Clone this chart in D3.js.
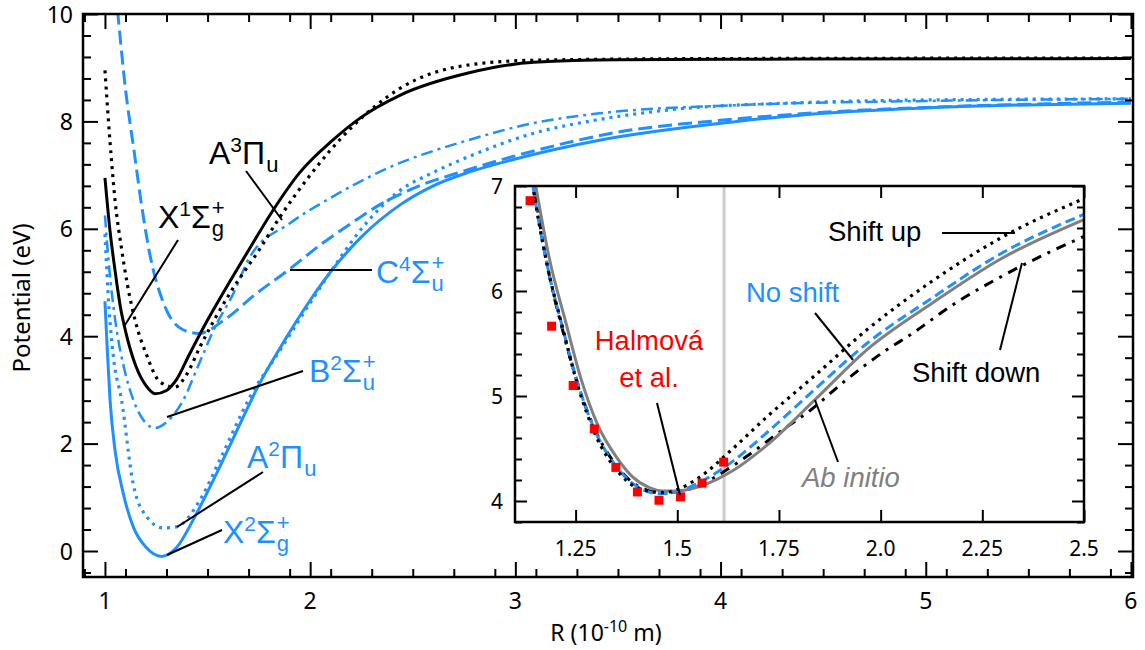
<!DOCTYPE html>
<html>
<head>
<meta charset="utf-8">
<script src="https://cdn.jsdelivr.net/npm/d3@7"></script>
<style>
  body { margin: 0; background: #fff; }
  svg { display: block; }
</style>
</head>
<body>
<script>
// main panel: potential curves, R in 1e-10 m, V in eV
const blackSolid = [[1.0,6.95],[1.025,5.95],[1.05,5.2],[1.075,4.55],[1.1,4.1],[1.15,3.45],[1.2,3.08],[1.245,2.93],[1.3,2.99],[1.35,3.2],[1.41,3.65],[1.5,4.3],[1.575,4.8],[1.7,5.6],[1.82,6.35],[1.95,7.05],[2.11,7.65],[2.25,8.08],[2.44,8.49],[2.77,8.9],[3.09,9.1],[3.5,9.15],[4.4,9.16],[6.0,9.17]];
const blackDot = [[1.0,8.95],[1.025,7.6],[1.05,6.5],[1.08,5.65],[1.11,4.95],[1.15,4.25],[1.2,3.68],[1.268,3.15],[1.34,3.05],[1.4,3.3],[1.463,3.8],[1.609,4.8],[1.75,5.6],[1.853,6.22],[2.0,7.0],[2.2,7.88],[2.44,8.62],[2.77,9.05],[3.1,9.14],[4.0,9.17],[6.0,9.18]];
const blueSolid = [[1.0,4.65],[1.012,3.7],[1.025,2.8],[1.05,1.85],[1.09,1.06],[1.14,0.43],[1.2,0.07],[1.276,-0.1],[1.35,0.07],[1.43,0.58],[1.5,1.1],[1.56,1.57],[1.65,2.3],[1.755,3.13],[1.88,3.95],[2.0,4.67],[2.1,5.2],[2.25,5.85],[2.44,6.45],[2.6,6.8],[2.77,7.05],[3.0,7.3],[3.41,7.65],[4.06,7.99],[4.4,8.12],[5.0,8.25],[6.0,8.34]];
const blueDot = [[1.0,5.9],[1.02,4.5],[1.04,3.65],[1.081,2.81],[1.137,1.26],[1.203,0.64],[1.283,0.43],[1.349,0.45],[1.463,0.95],[1.56,1.7],[1.707,2.87],[1.85,3.72],[2.0,4.62],[2.1,5.2],[2.25,6.0],[2.44,6.72],[2.6,7.05],[2.77,7.34],[3.09,7.78],[3.4,8.03],[3.74,8.21],[4.4,8.35],[5.0,8.4],[6.0,8.42]];
const blueDashDot = [[1.0,6.25],[1.02,5.3],[1.05,4.3],[1.1,3.3],[1.15,2.7],[1.2,2.38],[1.245,2.29],[1.3,2.4],[1.38,2.8],[1.46,3.5],[1.54,4.2],[1.62,4.75],[1.71,5.5],[1.9,6.1],[2.11,6.6],[2.39,7.15],[2.77,7.65],[3.09,7.97],[3.41,8.15],[4.06,8.3],[5.0,8.38],[6.0,8.42]];
const blueDash = [[1.04,10.8],[1.06,10.1],[1.1,8.6],[1.14,7.5],[1.18,6.4],[1.22,5.5],[1.28,4.67],[1.38,4.12],[1.46,4.05],[1.58,4.3],[1.74,4.8],[1.9,5.25],[2.06,5.73],[2.2,6.1],[2.34,6.45],[2.5,6.75],[2.77,7.1],[3.09,7.45],[3.5,7.8],[4.0,8.02],[4.5,8.17],[5.0,8.26],[6.0,8.36]];

// inset: zoom on the C4 state
const abInitio = [[1.125,7.6],[1.152,7.0],[1.186,6.3],[1.226,5.7],[1.262,5.18],[1.305,4.72],[1.35,4.42],[1.39,4.23],[1.43,4.13],[1.465,4.095],[1.5,4.095],[1.556,4.14],[1.637,4.29],[1.72,4.53],[1.84,4.97],[1.966,5.44],[2.129,5.89],[2.293,6.3],[2.5,6.68]];
const noShift = [[1.12,7.7],[1.145,7.0],[1.18,6.25],[1.22,5.62],[1.253,5.15],[1.3,4.65],[1.35,4.33],[1.4,4.14],[1.458,4.07],[1.5,4.09],[1.556,4.18],[1.637,4.38],[1.72,4.65],[1.84,5.07],[1.966,5.5],[2.129,5.94],[2.293,6.35],[2.5,6.73]];
const shiftUp = [[1.12,7.7],[1.145,7.0],[1.18,6.25],[1.22,5.62],[1.253,5.13],[1.3,4.62],[1.35,4.3],[1.4,4.13],[1.465,4.08],[1.5,4.11],[1.556,4.23],[1.637,4.5],[1.72,4.8],[1.84,5.2],[1.966,5.63],[2.129,6.1],[2.293,6.5],[2.5,6.88]];
const shiftDown = [[1.12,7.7],[1.147,7.0],[1.18,6.25],[1.22,5.6],[1.255,5.12],[1.3,4.66],[1.35,4.34],[1.4,4.15],[1.46,4.08],[1.5,4.09],[1.55,4.14],[1.598,4.24],[1.654,4.38],[1.76,4.68],[1.826,4.86],[1.908,5.13],[2.015,5.44],[2.072,5.58],[2.178,5.87],[2.293,6.13],[2.399,6.34],[2.5,6.52]];
const halmovaR = [1.138,1.191,1.244,1.296,1.349,1.402,1.455,1.508,1.561,1.614];
const halmovaV = [6.86,5.665,5.10,4.686,4.32,4.086,4.007,4.04,4.17,4.37];
const markerR = 1.615;

const mainXTicks = [1,2,3,4,5,6];
const mainYTicks = [0,2,4,6,8,10];
const insetXTicks = [1.25,1.5,1.75,2.0,2.25,2.5];
const insetXLabels = ["1.25","1.5","1.75","2.0","2.25","2.5"];
const insetYTicks = [4,5,6,7];

const W = 1145, H = 650;
const blue = "#1e90ff";
const tickFont = "'Noto Sans', sans-serif";
const annFont = "'Liberation Sans', Arial, sans-serif";

const svg = d3.select("body").append("svg").attr("width", W).attr("height", H);

// scales
const x = d3.scaleLinear().domain([0.893, 6.01]).range([83, 1133]);
const y = d3.scaleLinear().domain([-0.484, 10]).range([577, 14]);
const ix = d3.scaleLinear().domain([1.101, 2.5]).range([515, 1084]);
const iy = d3.scaleLinear().domain([3.8, 7]).range([522, 186]);

const defs = svg.append("defs");
defs.append("clipPath").attr("id", "clipMain").append("rect")
    .attr("x", 83).attr("y", 14).attr("width", 1050).attr("height", 563);
defs.append("clipPath").attr("id", "clipInset").append("rect")
    .attr("x", 515).attr("y", 186).attr("width", 569).attr("height", 336);

// axes helper: major + minor ticks pointing inward, on all 4 sides
function frameAxes(g, xs, ys, xMajor, xMinor, yMajor, yMinor, majLen, minLen) {
    const [x0, x1] = xs.range(), [y0, y1] = ys.range();
    const mk = (axisFn, scale, vals, len, tr) => {
        g.append("g").attr("transform", tr)
            .call(axisFn(scale).tickValues(vals).tickSize(-len).tickFormat(""))
            .call(a => a.select(".domain").remove())
            .call(a => a.selectAll("line").attr("stroke", "#000").attr("stroke-width", 2));
    };
    mk(d3.axisBottom, xs, xMajor, majLen, `translate(0,${y0})`);
    mk(d3.axisBottom, xs, xMinor, minLen, `translate(0,${y0})`);
    mk(d3.axisTop, xs, xMajor, majLen, `translate(0,${y1})`);
    mk(d3.axisTop, xs, xMinor, minLen, `translate(0,${y1})`);
    mk(d3.axisLeft, ys, yMajor, majLen, `translate(${x0},0)`);
    mk(d3.axisLeft, ys, yMinor, minLen, `translate(${x0},0)`);
    mk(d3.axisRight, ys, yMajor, majLen, `translate(${x1},0)`);
    mk(d3.axisRight, ys, yMinor, minLen, `translate(${x1},0)`);
    g.append("rect").attr("x", x0).attr("y", y1).attr("width", x1 - x0).attr("height", y0 - y1)
        .attr("fill", "none").attr("stroke", "#000").attr("stroke-width", 2.5);
}

const lineMain = d3.line().x(d => x(d[0])).y(d => y(d[1])).curve(d3.curveMonotoneX);
const lineInset = d3.line().x(d => ix(d[0])).y(d => iy(d[1])).curve(d3.curveMonotoneX);

// ---- main panel ----
const main = svg.append("g");
const curves = main.append("g").attr("clip-path", "url(#clipMain)");
const mainSeries = [
    {d: blueDash, c: blue, w: 3, dash: "14,6"},
    {d: blueDashDot, c: blue, w: 2.5, dash: "12,5,3,5"},
    {d: blueDot, c: blue, w: 3.2, dash: "3,5"},
    {d: blueSolid, c: blue, w: 3, dash: null},
    {d: blackDot, c: "#000", w: 3.2, dash: "3,5"},
    {d: blackSolid, c: "#000", w: 3, dash: null}
];
curves.selectAll("path").data(mainSeries).join("path")
    .attr("d", s => lineMain(s.d))
    .attr("fill", "none")
    .attr("stroke", s => s.c)
    .attr("stroke-width", s => s.w)
    .attr("stroke-dasharray", s => s.dash);

const mainXMinor = d3.range(0.9, 6.01, 0.2).map(v => +v.toFixed(2)).filter(v => !mainXTicks.includes(v));
const mainYMinor = d3.range(-0.4, 10, 0.4).map(v => +v.toFixed(2)).filter(v => !mainYTicks.includes(v));
frameAxes(main, x, y, mainXTicks, mainXMinor, mainYTicks, mainYMinor, 15, 8);

main.selectAll(".xl").data(mainXTicks).join("text")
    .attr("x", d => x(d)).attr("y", 609)
    .attr("text-anchor", "middle")
    .attr("font-family", tickFont).attr("font-size", 23)
    .text(d => d);
main.selectAll(".yl").data(mainYTicks).join("text")
    .attr("x", 73).attr("y", d => y(d) + 8.5)
    .attr("text-anchor", "end")
    .attr("font-family", tickFont).attr("font-size", 23)
    .text(d => d);

const xTitle = main.append("text")
    .attr("x", 606).attr("y", 641).attr("text-anchor", "middle")
    .attr("font-family", tickFont).attr("font-size", 23);
xTitle.append("tspan").text("R (10");
xTitle.append("tspan").attr("dy", -9).attr("font-size", 16).text("-10");
xTitle.append("tspan").attr("dy", 9).text(" m)");

main.append("text")
    .attr("transform", "translate(30,298) rotate(-90)")
    .attr("text-anchor", "middle")
    .attr("font-family", tickFont).attr("font-size", 24)
    .text("Potential (eV)");

// state labels: letter, superscript, greek, then stacked sub/sup
function stateLabel(px, py, letter, mult, greek, sub, sup, color) {
    const size = 32;
    const t = svg.append("text").attr("x", px).attr("y", py)
        .attr("font-family", annFont).attr("font-size", size).attr("fill", color);
    t.append("tspan").text(letter);
    t.append("tspan").attr("dy", -12).attr("font-size", 21).text(mult);
    t.append("tspan").attr("dy", 12).text(greek);
    const w = t.node().getComputedTextLength();
    svg.append("text").attr("x", px + w + 1).attr("y", py + 8)
        .attr("font-family", annFont).attr("font-size", 22).attr("fill", color).text(sub);
    if (sup) {
        svg.append("text").attr("x", px + w + 1).attr("y", py - 13)
            .attr("font-family", annFont).attr("font-size", 22).attr("fill", color).text(sup);
    }
}

function leader(x1, y1, x2, y2, w) {
    svg.append("line").attr("x1", x1).attr("y1", y1).attr("x2", x2).attr("y2", y2)
        .attr("stroke", "#000").attr("stroke-width", w || 2);
}

stateLabel(209, 164, "A", "3", "\u03A0", "u", null, "#000");
leader(246, 171, 282, 220);
stateLabel(158, 228, "X", "1", "\u03A3", "g", "+", "#000");
leader(178, 240, 125, 325);
stateLabel(376, 283, "C", "4", "\u03A3", "u", "+", blue);
leader(290, 270, 372, 270);
stateLabel(309, 382, "B", "2", "\u03A3", "u", "+", blue);
leader(167, 417, 303, 371);
stateLabel(247, 468, "A", "2", "\u03A0", "u", null, blue);
leader(177, 527, 263, 472);
stateLabel(223, 543, "X", "2", "\u03A3", "g", "+", blue);
leader(167, 555, 222, 530);

// ---- inset ----
const inset = svg.append("g");
inset.append("rect").attr("x", 515).attr("y", 186).attr("width", 569).attr("height", 336).attr("fill", "#fff");
const ic = inset.append("g").attr("clip-path", "url(#clipInset)");
ic.append("line")
    .attr("x1", ix(markerR)).attr("x2", ix(markerR))
    .attr("y1", iy(3.8)).attr("y2", iy(7))
    .attr("stroke", "#cccccc").attr("stroke-width", 3);

const insetSeries = [
    {d: shiftDown, c: "#000", w: 3, dash: "10,7,3,7"},
    {d: abInitio, c: "#808080", w: 3, dash: null},
    {d: noShift, c: blue, w: 3, dash: "10,5"},
    {d: shiftUp, c: "#000", w: 3.2, dash: "3,5"}
];
ic.selectAll("path").data(insetSeries).join("path")
    .attr("d", s => lineInset(s.d))
    .attr("fill", "none")
    .attr("stroke", s => s.c)
    .attr("stroke-width", s => s.w)
    .attr("stroke-dasharray", s => s.dash);

ic.selectAll("rect.pt").data(halmovaR).join("rect").attr("class", "pt")
    .attr("x", (d, i) => ix(d) - 4.5).attr("y", (d, i) => iy(halmovaV[i]) - 4.5)
    .attr("width", 9).attr("height", 9).attr("fill", "#ff0000");

const insetYMinor = d3.range(3.8, 7.0, 0.2).map(v => +v.toFixed(2)).filter(v => !insetYTicks.includes(v));
frameAxes(inset, ix, iy, insetXTicks, [], insetYTicks, insetYMinor, 12, 7);

inset.selectAll(".ixl").data(insetXTicks).join("text")
    .attr("x", d => ix(d)).attr("y", 556)
    .attr("text-anchor", "middle")
    .attr("font-family", tickFont).attr("font-size", 21)
    .text((d, i) => insetXLabels[i]);
inset.selectAll(".iyl").data(insetYTicks).join("text")
    .attr("x", 503).attr("y", d => iy(d) + 8)
    .attr("text-anchor", "end")
    .attr("font-family", tickFont).attr("font-size", 21)
    .text(d => d);

function ann(px, py, txt, color, italic) {
    svg.append("text").attr("x", px).attr("y", py)
        .attr("font-family", annFont).attr("font-size", 27.5)
        .attr("font-style", italic ? "italic" : null)
        .attr("fill", color).text(txt);
}
ann(828, 241, "Shift up", "#000");
leader(942, 233, 1015, 233);
ann(746, 302, "No shift", blue);
leader(815, 313, 853, 360);
ann(912, 382, "Shift down", "#000");
leader(1000, 350, 1022, 263);
svg.append("text").attr("x", 649).attr("y", 350).attr("text-anchor", "middle")
    .attr("font-family", annFont).attr("font-size", 27.5).attr("fill", "#ff0000").text("Halmová");
svg.append("text").attr("x", 649).attr("y", 387).attr("text-anchor", "middle")
    .attr("font-family", annFont).attr("font-size", 27.5).attr("fill", "#ff0000").text("et al.");
leader(657, 403, 680, 495);
ann(802, 487, "Ab initio", "#808080", true);
leader(815, 400, 838, 462);
</script>
</body>
</html>
